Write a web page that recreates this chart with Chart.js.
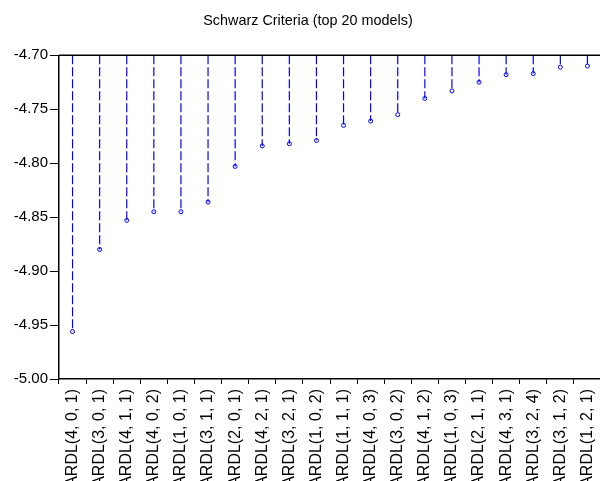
<!DOCTYPE html>
<html>
<head>
<meta charset="utf-8">
<script src="https://cdn.jsdelivr.net/npm/chart.js@4.4.0/dist/chart.umd.min.js"></script>
<style>
html, body { margin: 0; padding: 0; background: #fff; overflow: hidden; }
#wrap { width: 606px; height: 520px; }
</style>
</head>
<body>
<div id="wrap"><canvas id="schwarz_chart" width="606" height="520"></canvas></div>
<script>
// top 20 models by Schwarz criterion
var models = [
    'ARDL(4, 0, 1)', 'ARDL(3, 0, 1)', 'ARDL(4, 1, 1)', 'ARDL(4, 0, 2)', 'ARDL(1, 0, 1)',
    'ARDL(3, 1, 1)', 'ARDL(2, 0, 1)', 'ARDL(4, 2, 1)', 'ARDL(3, 2, 1)', 'ARDL(1, 0, 2)',
    'ARDL(1, 1, 1)', 'ARDL(4, 0, 3)', 'ARDL(3, 0, 2)', 'ARDL(4, 1, 2)', 'ARDL(1, 0, 3)',
    'ARDL(2, 1, 1)', 'ARDL(4, 3, 1)', 'ARDL(3, 2, 4)', 'ARDL(3, 1, 2)', 'ARDL(1, 2, 1)'
];
var schwarz = [
    -4.956, -4.880, -4.853, -4.845, -4.845,
    -4.836, -4.803, -4.784, -4.782, -4.779,
    -4.765, -4.761, -4.755, -4.740, -4.733,
    -4.725, -4.718, -4.717, -4.711, -4.710
];
var yTicks = [-5.00, -4.95, -4.90, -4.85, -4.80, -4.75, -4.70];
var stemTop = -4.70;

Chart.defaults.font.family = "'Liberation Sans', Arial, sans-serif";
Chart.defaults.color = '#000';

// dashed stems: pairs of points separated by a gap
var stems = [];
models.forEach(function (m, i) {
    stems.push({ x: m, y: stemTop });
    stems.push({ x: m, y: schwarz[i] });
    stems.push({ x: m, y: null });
});

var topFrame = {
    id: 'topFrame',
    afterDraw: function (chart) {
        var a = chart.chartArea;
        var ctx = chart.ctx;
        ctx.save();
        ctx.strokeStyle = '#000';
        ctx.lineWidth = 1.5;
        ctx.beginPath();
        ctx.moveTo(a.left, a.top);
        ctx.lineTo(a.right, a.top);
        ctx.stroke();
        ctx.restore();
    }
};

var ctx = document.getElementById('schwarz_chart').getContext('2d');
var myChart = new Chart(ctx, {
    type: 'line',
    data: {
        labels: models,
        datasets: [
            {
                label: 'stems',
                data: stems,
                borderColor: '#0000ff',
                borderWidth: 1.2,
                borderDash: [9, 3],
                pointRadius: 0,
                spanGaps: false,
                fill: false
            },
            {
                label: 'Schwarz Criteria',
                data: schwarz,
                showLine: false,
                pointRadius: 2,
                pointBorderWidth: 1,
                pointBorderColor: '#0000ff',
                pointBackgroundColor: '#ffffff'
            }
        ]
    },
    options: {
        responsive: false,
        animation: false,
        layout: { padding: { left: 10, right: 0, top: 0, bottom: 0 } },
        plugins: {
            legend: { display: false },
            tooltip: { enabled: false },
            title: {
                display: true,
                text: 'Schwarz Criteria (top 20 models)',
                font: { size: 14.4, weight: 'normal' },
                color: '#000',
                padding: { top: 12, bottom: 26 }
            }
        },
        scales: {
            x: {
                type: 'category',
                offset: true,
                grid: { offset: true, drawOnChartArea: false, drawTicks: true, tickLength: 5, color: '#000' },
                border: { display: true, color: '#000', width: 1.5 },
                ticks: { minRotation: 90, maxRotation: 90, autoSkip: false, padding: 5, font: { size: 16 } },
                afterFit: function (axis) {
                    axis.height = 141;
                    axis.paddingLeft = 0;
                    axis.paddingRight = 0;
                }
            },
            y: {
                min: -5.0,
                max: -4.7,
                grid: { drawOnChartArea: false, drawTicks: true, tickLength: 9, color: '#000' },
                border: { display: true, color: '#000', width: 1.5 },
                afterBuildTicks: function (axis) {
                    axis.ticks = yTicks.map(function (v) { return { value: v }; });
                },
                ticks: {
                    padding: 2,
                    font: { size: 15 },
                    callback: function (value) { return Number(value).toFixed(2); }
                },
                afterFit: function (axis) { axis.width = 49; }
            }
        }
    },
    plugins: [topFrame]
});
</script>
</body>
</html>
